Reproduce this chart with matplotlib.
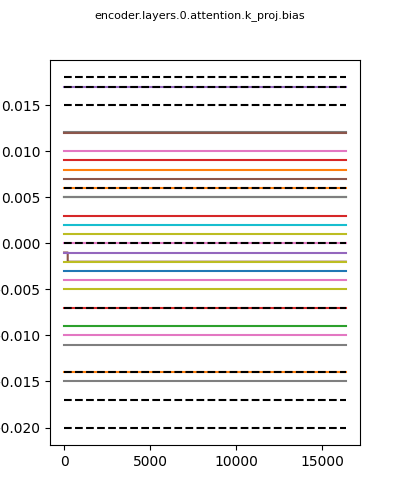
import matplotlib
matplotlib.use('Agg')
import matplotlib.pyplot as plt

# 训练步数范围
steps = [0, 16383]

# 各通道的偏置值（基本不变）
bias_values = [0.017, 0.01205, 0.012, 0.010, 0.009, 0.008, 0.007, 0.006,
               0.00502, 0.005, 0.003, 0.002, 0.001, 0.000, -0.001,
               -0.002, -0.003, -0.004, -0.005, -0.007, -0.009, -0.010,
               -0.011, -0.014, -0.015]
bias_colors = ['tab:purple', 'tab:gray', 'tab:brown', 'tab:pink', 'tab:red',
               'tab:orange', 'tab:brown', 'tab:orange', 'tab:green', 'tab:gray',
               'tab:red', 'tab:cyan', 'tab:olive', 'tab:pink', 'tab:purple',
               'tab:olive', 'tab:blue', 'tab:pink', 'tab:olive', 'tab:red',
               'tab:green', 'tab:pink', 'tab:gray', 'tab:orange', 'tab:gray']

# 有一个通道在早期跳变
jump_steps = [0, 210, 211, 16383]
jump_values = [-0.001, -0.001, -0.002, -0.002]

# 初始值参考线
init_values = [0.018, 0.017, 0.015, 0.006, 0.000, -0.007, -0.014, -0.017, -0.020]

fig = plt.figure(figsize=(4, 5), dpi=100)
ax = fig.add_subplot(111)

ax.plot(jump_steps, jump_values, color='tab:brown')
for v, c in zip(bias_values, bias_colors):
    ax.plot(steps, [v, v], color=c)
for v in init_values:
    ax.plot(steps, [v, v], 'k--')

fig.suptitle('encoder.layers.0.attention.k_proj.bias', fontsize=8)
fig.savefig('out.png', dpi=100)
